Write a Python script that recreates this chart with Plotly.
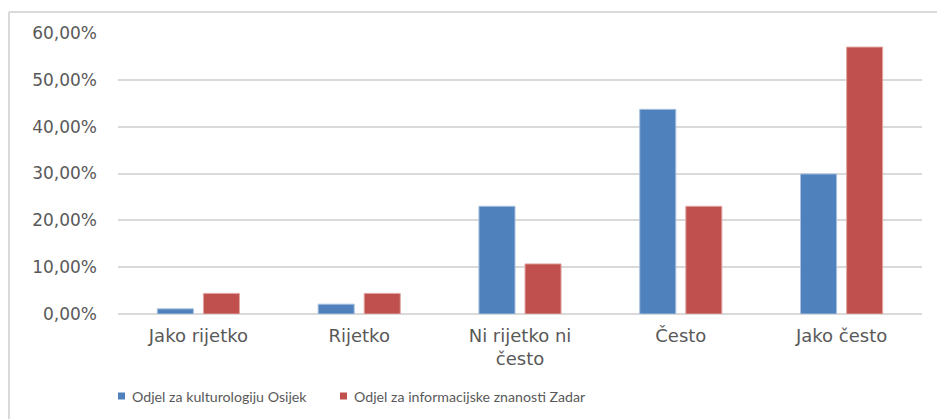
import plotly.graph_objects as go

# Category labels (x axis) and the two departments' shares, in percent
categories = ["Jako rijetko", "Rijetko", "Ni rijetko ni<br>često", "Često", "Jako često"]
series_names = ["Odjel za kulturologiju Osijek", "Odjel za informacijske znanosti Zadar"]
osijek = [1.1, 2.1, 23.0, 43.7, 29.9]
zadar = [4.4, 4.4, 10.7, 23.0, 57.0]
y_ticks = [0, 10, 20, 30, 40, 50, 60]
y_tick_labels = ["0,00%", "10,00%", "20,00%", "30,00%", "40,00%", "50,00%", "60,00%"]

colors = ["#4F81BD", "#C0504D"]
edge_colors = ["#A9C0DE", "#E0A7A5"]
text_color = "#595959"
grid_color = "#D9D9D9"

W, H = 937, 419
L, R, T, B = 118, 15, 33, 105

fig = go.Figure()
for name, vals, c, ec in zip(series_names, [osijek, zadar], colors, edge_colors):
    fig.add_trace(go.Bar(
        x=categories, y=vals, name=name,
        marker=dict(color=c, line=dict(color=ec, width=1)),
        showlegend=False,
    ))

fig.update_layout(
    width=W, height=H,
    margin=dict(l=L, r=R, t=T, b=B),
    paper_bgcolor="white", plot_bgcolor="white",
    barmode="group", bargap=0.427, bargroupgap=0.217,
    font=dict(family="DejaVu Sans", color=text_color),
    xaxis=dict(
        showgrid=False, showline=False, zeroline=False,
        tickfont=dict(size=18, family="DejaVu Sans", color=text_color),
        ticks="", ticklabelstandoff=9,
    ),
    yaxis=dict(
        range=[0, 60], tickvals=y_ticks, ticktext=y_tick_labels,
        showgrid=True, gridcolor=grid_color, gridwidth=1.5,
        zeroline=True, zerolinecolor=grid_color, zerolinewidth=1.5,
        showline=False, ticks="",
        tickfont=dict(size=17, family="DejaVu Sans", color=text_color),
        ticklabelstandoff=20,
    ),
)

# Chart frame: left and top edges
pw, ph = W - L - R, H - T - B
x_left = (9 - L) / pw
y_top = 1 + (T - 12) / ph
y_bot = -(H - (H - B)) / ph - 0.01
fig.add_shape(type="line", xref="paper", yref="paper", x0=x_left, x1=x_left,
              y0=y_top, y1=y_bot, line=dict(color=grid_color, width=2))
fig.add_shape(type="line", xref="paper", yref="paper", x0=x_left, x1=1 + R / pw,
              y0=y_top, y1=y_top, line=dict(color=grid_color, width=2))

# Legend drawn below the plot: small colour square followed by series name
legend_y_px = 396
legend_x_px = [118, 340]
sq = 7
for name, c, lx in zip(series_names, colors, legend_x_px):
    x0 = (lx - L) / pw
    x1 = (lx + sq - L) / pw
    yc = (H - B - legend_y_px) / ph
    fig.add_shape(type="rect", xref="paper", yref="paper",
                  x0=x0, x1=x1, y0=yc - sq / 2 / ph, y1=yc + sq / 2 / ph,
                  fillcolor=c, line=dict(width=0))
    fig.add_annotation(xref="paper", yref="paper", x=(lx + sq + 5 - L) / pw, y=yc,
                       text=name, showarrow=False, xanchor="left", yanchor="middle",
                       font=dict(size=14.2, family="Lato", color=text_color))

fig.write_html("out.html")
